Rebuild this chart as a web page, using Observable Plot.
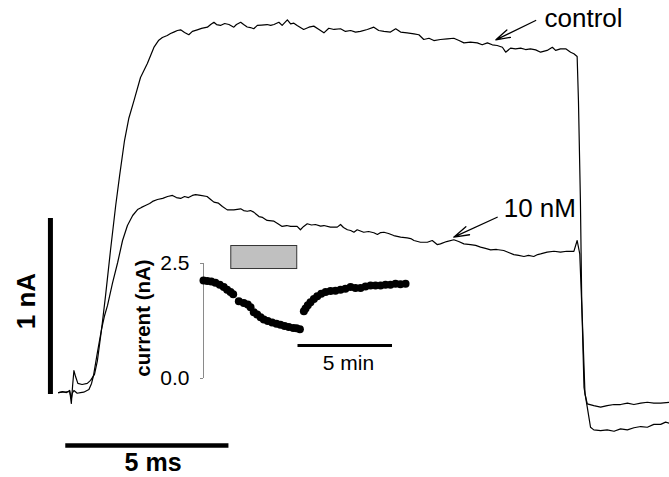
<!DOCTYPE html>
<html><head><meta charset="utf-8">
<script src="https://cdn.jsdelivr.net/npm/d3@7"></script>
<script src="https://cdn.jsdelivr.net/npm/@observablehq/plot@0.6"></script>
<style>
html,body{margin:0;padding:0;background:#fff;}
#wrap{position:relative;width:669px;height:477px;overflow:hidden;background:#fff;}
#wrap svg{position:absolute;left:0;top:0;}
</style></head><body><div id="wrap"></div>
<script>
// ---- main traces: time (ms) and current (nA) ----
const controlTime = [-0.22,-0.10,0.02,0.12,0.17,0.21,0.25,0.30,0.37,0.50,0.66,0.76,0.88,0.97,1.10,1.22,1.37,1.53,1.65,1.80,1.93,2.09,2.29,2.50,2.70,2.84,2.96,3.11,3.21,3.31,3.42,3.52,3.64,3.77,3.88,4.03,4.16,4.34,4.44,4.54,4.62,4.74,4.87,5.00,5.15,5.23,5.36,5.45,5.56,5.66,5.76,5.87,6.00,6.17,6.28,6.38,6.53,6.63,6.79,6.89,6.99,7.09,7.29,7.45,7.60,7.76,7.91,8.06,8.22,8.42,8.57,8.73,8.88,9.03,9.24,9.44,9.59,9.75,9.95,10.11,10.26,10.46,10.67,10.82,10.97,11.13,11.28,11.48,11.69,11.89,12.05,12.20,12.40,12.61,12.76,12.92,13.07,13.22,13.38,13.48,13.63,13.78,13.94,14.09,14.24,14.40,14.55,14.75,14.91,15.01,15.16,15.32,15.47,15.57,15.67,15.71,15.77,15.81,15.88,15.98,16.08,16.18,16.39,16.59,16.80,17.00,17.21,17.41,17.62,17.82,18.02,18.23,18.38,18.50];
const controlCurrent = [0.011,0.017,0.011,0.023,-0.051,0.051,0.136,0.102,0.063,0.057,0.063,0.080,0.114,0.193,0.375,0.563,0.818,1.074,1.244,1.443,1.568,1.670,1.801,1.881,1.972,2.011,2.028,2.040,2.051,2.059,2.068,2.072,2.057,2.044,2.063,2.072,2.080,2.087,2.102,2.115,2.102,2.097,2.108,2.102,2.087,2.102,2.115,2.102,2.088,2.085,2.078,2.097,2.099,2.102,2.097,2.102,2.115,2.097,2.129,2.106,2.110,2.097,2.074,2.087,2.093,2.074,2.055,2.081,2.074,2.078,2.063,2.068,2.059,2.063,2.074,2.087,2.068,2.063,2.059,2.078,2.059,2.055,2.049,2.044,2.017,2.024,2.011,2.017,2.021,2.024,2.011,1.998,2.002,1.998,1.987,1.998,1.987,1.983,1.973,1.945,1.968,1.964,1.968,1.960,1.964,1.958,1.945,1.955,1.973,1.955,1.964,1.964,1.945,1.936,1.920,1.670,1.102,0.534,0.041,-0.072,-0.186,-0.201,-0.205,-0.201,-0.209,-0.195,-0.201,-0.189,-0.182,-0.186,-0.170,-0.170,-0.157,-0.163];
const drugTime = [-0.22,-0.10,-0.01,0.12,0.17,0.20,0.25,0.35,0.45,0.55,0.71,0.79,0.85,0.97,1.10,1.19,1.28,1.43,1.59,1.74,1.89,2.05,2.20,2.32,2.44,2.57,2.66,2.81,2.97,3.12,3.27,3.39,3.52,3.64,3.76,3.88,3.98,4.13,4.33,4.44,4.54,4.68,4.80,4.95,5.15,5.36,5.45,5.56,5.66,5.76,5.92,6.03,6.17,6.38,6.49,6.63,6.77,6.89,7.09,7.19,7.29,7.40,7.53,7.65,7.81,7.91,8.11,8.32,8.42,8.51,8.63,8.73,8.83,8.93,9.13,9.28,9.44,9.55,9.65,9.75,9.89,10.05,10.26,10.46,10.57,10.67,10.87,11.08,11.23,11.38,11.48,11.67,11.89,12.04,12.20,12.40,12.56,12.71,12.86,13.02,13.20,13.42,13.57,13.73,13.88,14.04,14.18,14.34,14.46,14.55,14.75,14.96,15.16,15.35,15.57,15.67,15.75,15.83,15.91,15.98,16.18,16.39,16.59,16.80,17.00,17.21,17.41,17.62,17.82,18.02,18.23,18.50];
const drugCurrent = [0.011,0.014,0.013,0.017,-0.023,0.007,0.023,0.007,0.011,0.013,0.028,0.063,0.108,0.239,0.375,0.449,0.506,0.631,0.750,0.875,0.960,1.017,1.051,1.063,1.074,1.085,1.097,1.108,1.114,1.125,1.131,1.119,1.114,1.125,1.119,1.131,1.136,1.131,1.125,1.108,1.093,1.087,1.068,1.049,1.049,1.055,1.045,1.041,1.045,1.036,1.011,1.006,0.989,0.985,0.972,0.955,0.960,0.955,0.955,0.936,0.955,0.970,0.963,0.966,0.957,0.960,0.951,0.951,0.966,0.949,0.936,0.932,0.922,0.936,0.922,0.926,0.919,0.909,0.920,0.922,0.915,0.903,0.894,0.890,0.886,0.875,0.865,0.865,0.875,0.852,0.856,0.869,0.879,0.869,0.856,0.852,0.847,0.837,0.830,0.822,0.824,0.818,0.807,0.795,0.790,0.784,0.790,0.784,0.795,0.799,0.809,0.814,0.809,0.814,0.813,0.875,0.799,0.420,0.004,-0.053,-0.063,-0.072,-0.063,-0.057,-0.057,-0.049,-0.057,-0.049,-0.044,-0.049,-0.049,-0.044];
const traceLabels = ["control", "10 nM"];

// ---- inset: time course (min) and peak current (nA) ----
const recordingTime = [0,0.2,0.41,0.63,0.86,1.07,1.25,1.43,1.57,1.87,2.13,2.34,2.49,2.66,2.84,3.02,3.19,3.40,3.63,3.86,4.07,4.29,4.51,4.75,4.92,5.10,
  5.31,5.40,5.52,5.66,5.84,6.02,6.23,6.46,6.72,6.98,7.25,7.51,7.78,8.04,8.31,8.57,8.84,9.10,9.37,9.63,9.89,10.16,10.42,10.69];
const recordingCurrent = [2.13,2.12,2.11,2.08,2.04,1.99,1.93,1.88,1.83,1.68,1.64,1.61,1.55,1.44,1.39,1.33,1.28,1.25,1.22,1.19,1.17,1.14,1.12,1.10,1.09,1.07,
  1.46,1.52,1.59,1.66,1.73,1.79,1.84,1.88,1.90,1.91,1.93,1.95,1.99,1.97,1.97,2.00,2.02,2.02,2.02,2.04,2.04,2.06,2.05,2.06];
const drugApplication = [1.47, 4.96];   // minutes
const insetTicks = [0, 2.5];
const insetYLabel = "current (nA)";

// ---- scale bars ----
const scaleBarMs = 5;
const scaleBarNa = 1;
const scaleBarMin = 5;

const font = "'Liberation Sans', Arial, Helvetica, sans-serif";

const control = controlTime.map((t, i) => ({t, I: controlCurrent[i]}));
const drug = drugTime.map((t, i) => ({t, I: drugCurrent[i]}));
const arrows = [
  {label: traceLabels[0], x1: 14.40, y1: 2.125, x2: 13.18, y2: 2.015, lx: 14.67, ly: 2.087},
  {label: traceLabels[1], x1: 13.22, y1: 1.007, x2: 11.89, y2: 0.894, lx: 13.42, ly: 1.006}
];

const main = Plot.plot({
  width: 669, height: 477, margin: 0,
  x: {domain: [-2, 18.5], axis: null},
  y: {domain: [-0.4716, 2.2386], axis: null},
  style: {fontFamily: font, background: "white", overflow: "visible", color: "black"},
  marks: [
    Plot.line(control, {x: "t", y: "I", stroke: "black", strokeWidth: 1.2}),
    Plot.line(drug, {x: "t", y: "I", stroke: "black", strokeWidth: 1.2}),
    Plot.arrow(arrows, {x1: "x1", y1: "y1", x2: "x2", y2: "y2", stroke: "black", strokeWidth: 1.3, headLength: 30, headAngle: 32}),
    Plot.text(arrows, {x: "lx", y: "ly", text: "label", textAnchor: "start", lineAnchor: "bottom", fontSize: 26, fill: "black"}),
    Plot.ruleX([-0.47], {y1: 0, y2: scaleBarNa, stroke: "black", strokeWidth: 5}),
    Plot.ruleY([-0.29], {x1: 0, x2: scaleBarMs, stroke: "black", strokeWidth: 4.5}),
    Plot.text([`${scaleBarNa} nA`], {x: -1.2, y: 0.531, rotate: -90, fontWeight: "bold", fontSize: 26, fill: "black"}),
    Plot.text([`${scaleBarMs} ms`], {x: 2.674, y: -0.4375, lineAnchor: "bottom", fontWeight: "bold", fontSize: 25, fill: "black"})
  ]
});

const recording = recordingTime.map((t, i) => ({t, I: recordingCurrent[i]}));
const inset = Plot.plot({
  width: 669, height: 477,
  marginLeft: 203, marginRight: 277, marginTop: 263, marginBottom: 99,
  x: {domain: [0, 10], axis: null},
  y: {domain: [0, 2.5]},
  style: {fontFamily: font, background: "transparent", overflow: "visible", fontSize: "21px", color: "black"},
  marks: [
    Plot.ruleX([0], {y1: 0, y2: 2.5, stroke: "#8a8a8a", strokeWidth: 1}),
    Plot.axisY({ticks: insetTicks, tickFormat: d3.format(".1f"), tickSize: 3, tickPadding: 11, fontSize: 21, label: null, stroke: "#8a8a8a", fill: "black"}),
    Plot.text([insetYLabel], {x: -3.2, y: 1.315, rotate: -90, fontWeight: "bold", fontSize: 20.5, fill: "black"}),
    Plot.rect([drugApplication], {x1: d => d[0], x2: d => d[1], y1: 2.38, y2: 2.88, fill: "#c0c0c0", stroke: "#333", strokeWidth: 1}),
    Plot.dot(recording, {x: "t", y: "I", r: 4, fill: "black", stroke: "none"}),
    Plot.ruleY([0.717], {x1: 5, x2: 5 + scaleBarMin, stroke: "black", strokeWidth: 3}),
    Plot.text([`${scaleBarMin} min`], {x: 7.67, y: 0.174, lineAnchor: "bottom", fontSize: 21, fill: "black"})
  ]
});

const wrap = document.getElementById("wrap");
wrap.appendChild(main);
wrap.appendChild(inset);
</script></body></html>
